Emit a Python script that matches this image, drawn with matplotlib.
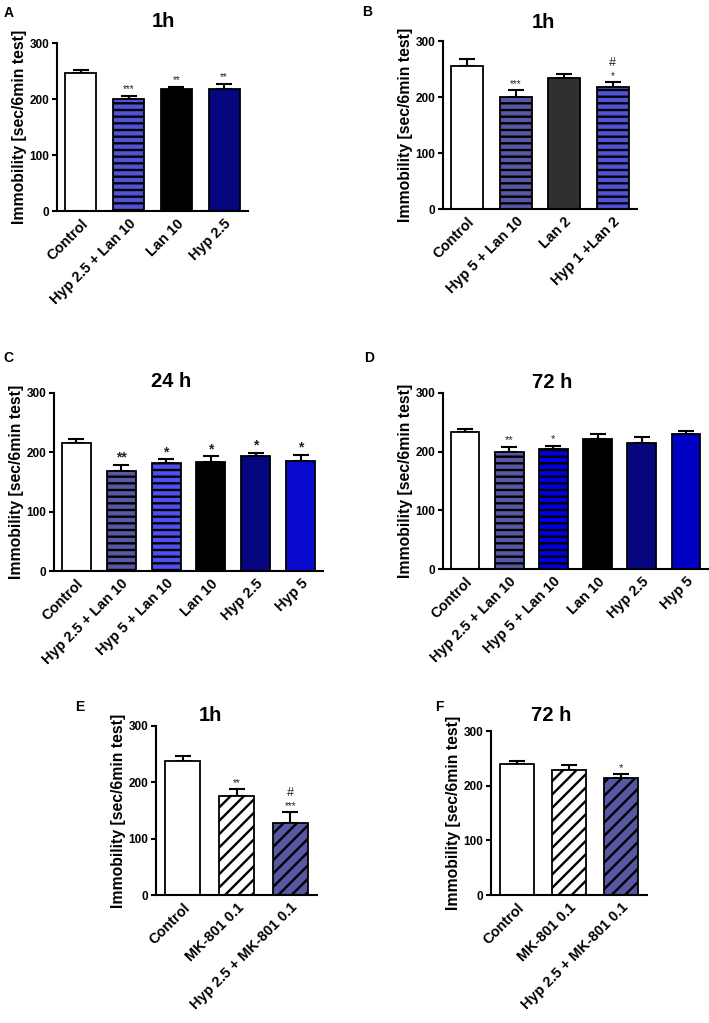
import matplotlib
matplotlib.use("Agg")
import matplotlib.pyplot as plt
import matplotlib.transforms as mtransforms
import numpy as np

W, H = 709, 1023
DPI = 80          # lower dpi gives the wider hatch spacing seen in the reference
K = 100 / DPI     # sizes below are tuned for 100 dpi, scale them

plt.rcParams['font.family'] = ['Liberation Sans', 'DejaVu Sans']
plt.rcParams['font.weight'] = 'bold'
plt.rcParams['axes.labelweight'] = 'bold'
plt.rcParams['hatch.linewidth'] = 1.7 * K

# ---- data (mean, SEM, significance marks) ----
A_labels = ['Control', 'Hyp 2.5 + Lan 10', 'Lan 10', 'Hyp 2.5']
A_means = [247, 200, 217, 217]
A_sem = [5, 6, 5, 10]
A_sig = ['', '***', '**', '**']
A_hash = ['', '', '', '']

B_labels = ['Control', 'Hyp 5 + Lan 10', 'Lan 2', 'Hyp 1 +Lan 2']
B_means = [256, 200, 234, 218]
B_sem = [11, 12, 7, 8]
B_sig = ['', '***', '', '*']
B_hash = ['', '', '', '#']

C_labels = ['Control', 'Hyp 2.5 + Lan 10', 'Hyp 5 + Lan 10', 'Lan 10', 'Hyp 2.5', 'Hyp 5']
C_means = [215, 168, 182, 184, 193, 186]
C_sem = [7, 11, 6, 9, 6, 9]
C_sig = ['', '**', '*', '*', '*', '*']
C_hash = ['', '', '', '', '', '']

D_labels = ['Control', 'Hyp 2.5 + Lan 10', 'Hyp 5 + Lan 10', 'Lan 10', 'Hyp 2.5', 'Hyp 5']
D_means = [234, 199, 204, 222, 215, 230]
D_sem = [5, 9, 6, 8, 10, 5]
D_sig = ['', '**', '*', '', '', '']
D_hash = ['', '', '', '', '', '']

E_labels = ['Control', 'MK-801 0.1', 'Hyp 2.5 + MK-801 0.1']
E_means = [238, 176, 127]
E_sem = [8, 12, 20]
E_sig = ['', '**', '***']
E_hash = ['', '', '#']

F_labels = ['Control', 'MK-801 0.1', 'Hyp 2.5 + MK-801 0.1']
F_means = [239, 229, 214]
F_sem = [7, 9, 7]
F_sig = ['', '', '*']
F_hash = ['', '', '']

# ---- styles ----
SLATE = '#5757a3'
MIDBLUE = '#5252d6'
NAVY = '#06067f'
panels = [
    # letter, box(px: x0, y0, x1, y1), title, title pos (axes frac), data, colors, hatches, sig size, letter pos
    ('A', (57, 43, 248, 211), '1h', (0.555, 1.127),
     (A_labels, A_means, A_sem, A_sig, A_hash),
     ['white', MIDBLUE, 'black', NAVY], [None, '--', None, None], 7, (9, 13)),
    ('B', (443, 41, 637, 209), '1h', (0.517, 1.113),
     (B_labels, B_means, B_sem, B_sig, B_hash),
     ['white', SLATE, '#303030', MIDBLUE], [None, '--', None, '--'], 7, (367, 12)),
    ('C', (54, 393, 323, 571), '24 h', (0.437, 1.062),
     (C_labels, C_means, C_sem, C_sig, C_hash),
     ['white', SLATE, '#4f4ff2', 'black', NAVY, '#0a0acf'],
     [None, '--', '--', None, None, None], 10, (8, 358)),
    ('D', (443, 393, 708, 569), '72 h', (0.411, 1.059),
     (D_labels, D_means, D_sem, D_sig, D_hash),
     ['white', SLATE, '#0000e6', 'black', NAVY, '#0000c4'],
     [None, '--', '--', None, None, None], 8, (369, 358)),
    ('E', (156, 726, 317, 895), '1h', (0.337, 1.063),
     (E_labels, E_means, E_sem, E_sig, E_hash),
     ['white', 'white', SLATE], [None, '//', '//'], 7, (80, 707)),
    ('F', (491, 731, 647, 895), '72 h', (0.389, 1.095),
     (F_labels, F_means, F_sem, F_sig, F_hash),
     ['white', 'white', SLATE], [None, '//', '//'], 8, (439, 707)),
]

fig = plt.figure(figsize=(W / DPI, H / DPI), dpi=DPI)

for letter, box, title, tpos, data, colors, hatches, sig_size, lpos in panels:
    labels, means, sems, sig, hsh = data
    x0, y0, x1, y1 = box
    ax = fig.add_axes([x0 / W, 1 - y1 / H, (x1 - x0) / W, (y1 - y0) / H])
    x = np.arange(len(labels))
    ax.errorbar(x, means, yerr=[np.zeros(len(sems)), sems], fmt='none',
                ecolor='black', elinewidth=1.5 * K, capsize=6 * K,
                capthick=1.5 * K, zorder=1)
    bars = ax.bar(x, means, width=0.65, color=colors, edgecolor='black',
                  linewidth=1.3 * K, zorder=2)
    for b, h in zip(bars, hatches):
        if h:
            b.set_hatch(h)
    for xi, m, s, st, hs in zip(x, means, sems, sig, hsh):
        if st:
            ax.annotate(st, (xi, m + s), xytext=(0, 2.5 * K), textcoords='offset points',
                        ha='center', va='baseline', fontsize=sig_size * K,
                        fontweight='bold' if sig_size >= 9 else 'normal', color='#222222')
        if hs:
            ax.annotate(hs, (xi, m + s), xytext=(0, 12 * K), textcoords='offset points',
                        ha='center', va='baseline', fontsize=9 * K,
                        fontweight='normal', color='#222222')
    ax.set_xlim(-0.5, len(labels) - 0.5)
    ax.set_ylim(0, 300)
    ax.set_yticks([0, 100, 200, 300])
    ax.set_xticks(x)
    ax.set_xticklabels(labels, rotation=45, ha='right', va='top',
                       rotation_mode='anchor', fontsize=10.4 * K, fontweight='bold')
    offset = mtransforms.ScaledTranslation(6 / DPI, 0, fig.dpi_scale_trans)
    for lab in ax.get_xticklabels():
        lab.set_transform(lab.get_transform() + offset)
    ax.tick_params(axis='x', length=0, pad=4 * K)
    ax.tick_params(axis='y', length=3.5 * K, width=1.5 * K, labelsize=8.5 * K, pad=2 * K)
    for lab in ax.get_yticklabels():
        lab.set_fontweight('bold')
    for side in ['top', 'right']:
        ax.spines[side].set_visible(False)
    for side in ['left', 'bottom']:
        ax.spines[side].set_linewidth(1.5 * K)
    ax.set_ylabel('Immobility [sec/6min test]', fontsize=11.3 * K, fontweight='bold',
                  labelpad=2 * K)
    ax.text(tpos[0], tpos[1], title, transform=ax.transAxes, ha='center',
            va='center', fontsize=14.5 * K, fontweight='bold')
    fig.text(lpos[0] / W, 1 - lpos[1] / H, letter, ha='center', va='center',
             fontsize=10 * K, fontweight='bold')

fig.savefig('out.png', dpi=DPI, facecolor='white')
